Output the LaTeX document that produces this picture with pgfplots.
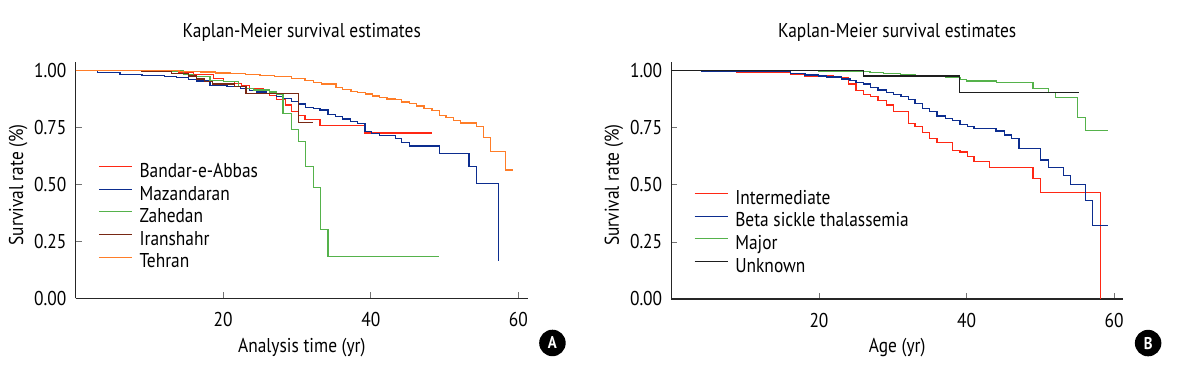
\documentclass[border=0pt]{standalone}
\usepackage{pgfplots}
\pgfplotsset{compat=1.18}
\usepackage{fontspec}
\setmainfont[FakeStretch=0.87]{PT Sans}
\definecolor{cRed}{RGB}{255,40,20}
\definecolor{cBlue}{RGB}{12,45,143}
\definecolor{cGreen}{RGB}{85,178,75}
\definecolor{cBrown}{RGB}{120,40,20}
\definecolor{cOrange}{RGB}{255,125,40}
\definecolor{cBlack}{RGB}{30,30,30}
\pgfplotsset{
  kmstyle/.style={
    scale only axis, anchor=south west, xmin=0, ymin=0,
    axis x line*=bottom, axis y line*=left,
    axis line style={line width=1.1bp, black!85, -},
    xtick={20,40,60}, ytick={0,0.25,0.5,0.75,1},
    /pgf/number format/assume math mode=true,
    yticklabel style={/pgf/number format/.cd, fixed, fixed zerofill, precision=2, /tikz/.cd, anchor=east, inner sep=0pt, xshift=-9bp},
    xticklabel style={anchor=north, inner sep=0pt, yshift=-14bp},
    major tick length=6bp, tick style={black!55, line width=0.8bp},
    clip=false, legend cell align=left,
    legend style={draw=none, fill=none, inner sep=0pt, row sep=0pt, column sep=6bp,
      nodes={inner sep=1bp, text height=15bp, text depth=5.6bp}},
    legend image code/.code={\draw[##1, line width=1.1bp] (0bp,6bp) -- (33bp,6bp);},
    every axis plot/.append style={const plot, line width=1.25bp},
    title style={anchor=base, at={(0.5,1)}, yshift=19bp},
    xlabel style={at={(axis description cs:0.5,-0.207)}, anchor=center},
    ylabel style={at={(axis description cs:-0.127,0.48)}, anchor=center},
  }
}
\begin{document}
\begin{tikzpicture}[font=\fontsize{20bp}{23bp}\selectfont]
\useasboundingbox (0,0) rectangle (1177bp,377bp);
\begin{axis}[kmstyle, at={(75.6bp,78.7bp)}, width=452.4bp, height=236.3bp,
  xmax=61.3, ymax=1.036,
  title={Kaplan-Meier survival estimates},
  xlabel={Analysis time (yr)}, ylabel={Survival rate (\%)},
  legend style={at={(axis description cs:0.05,0.58)}, anchor=north west}]
\addplot[cRed] coordinates {(0,1)(12,0.997)(14,0.99)(16,0.98)(18.7,0.963)(20,0.949)(21.5,0.942)(22.5,0.932)(23.6,0.92)(25.5,0.897)(26.3,0.890)(27.2,0.873)(28.4,0.848)(29.3,0.819)(30.2,0.801)(31.1,0.785)(33.1,0.757)(39.2,0.725)(48.3,0.725)};
\addlegendentry{Bandar-e-Abbas}
\addplot[cBlue] coordinates {(0,1)(3,0.99)(6,0.982)(9,0.976)(12,0.972)(13.7,0.968)(15.3,0.960)(16.4,0.953)(18.2,0.934)(20.5,0.930)(22.3,0.919)(23.6,0.912)(24.5,0.905)(25.9,0.897)(27.2,0.885)(28.1,0.877)(29.3,0.862)(30.2,0.852)(31.2,0.838)(32.2,0.832)(33.1,0.826)(34.2,0.807)(35.2,0.797)(36.2,0.786)(37.2,0.775)(38.2,0.767)(39.2,0.731)(40.1,0.723)(41.2,0.713)(43.3,0.699)(44.2,0.683)(45.2,0.668)(49.3,0.636)(53.3,0.577)(54.3,0.504)(57.3,0.164)};
\addlegendentry{Mazandaran}
\addplot[cGreen] coordinates {(0,1)(10,0.997)(14.6,0.981)(15.9,0.974)(18.2,0.956)(20.0,0.949)(22.1,0.930)(23.2,0.920)(24.1,0.913)(26.3,0.905)(27.2,0.895)(28.1,0.811)(29.3,0.741)(30.2,0.687)(31.2,0.577)(32.2,0.487)(33.2,0.303)(34.2,0.183)(49.3,0.183)};
\addlegendentry{Zahedan}
\addplot[cBrown] coordinates {(0,1)(9,0.995)(13,0.985)(15.3,0.975)(16.4,0.962)(17.5,0.950)(18.5,0.940)(21.5,0.930)(23.1,0.897)(30.2,0.770)(32.1,0.770)};
\addlegendentry{Iranshahr}
\addplot[cOrange] coordinates {(0,1)(10,0.998)(14,0.995)(17,0.992)(19,0.988)(21,0.985)(23,0.981)(25,0.978)(27,0.974)(27.7,0.972)(29.3,0.963)(31.1,0.954)(32.2,0.946)(33.3,0.940)(35.3,0.925)(36.2,0.914)(37.3,0.908)(38.2,0.902)(39.3,0.896)(40.2,0.887)(41.2,0.879)(42.2,0.874)(43.3,0.870)(44.2,0.861)(45.2,0.855)(46.2,0.843)(47.2,0.832)(48.3,0.823)(49.3,0.801)(50.2,0.792)(51.2,0.779)(52.2,0.769)(54.3,0.753)(55.3,0.706)(56.2,0.643)(58.3,0.563)(59.2,0.563)};
\addlegendentry{Tehran}
\node[circle, fill=black, text=white, inner sep=0pt, minimum size=26.5bp, font=\fontsize{17bp}{17bp}\selectfont\bfseries] at (rel axis cs:1.054,-0.189) {A};
\end{axis}
\begin{axis}[kmstyle, at={(671.4bp,78bp)}, width=451.6bp, height=237bp,
  xmax=61.2, ymax=1.038,
  title={Kaplan-Meier survival estimates},
  xlabel={Age (yr)}, ylabel={Survival rate (\%)},
  legend style={at={(axis description cs:0.05,0.468)}, anchor=north west}]
\addplot[cRed] coordinates {(0,1)(8.8,0.993)(16.1,0.985)(18.1,0.977)(21.9,0.969)(24.0,0.942)(25.0,0.913)(26.0,0.896)(27.0,0.886)(28.0,0.868)(29.1,0.850)(30.1,0.820)(32.1,0.770)(33.0,0.755)(34.0,0.730)(35.0,0.702)(36.0,0.686)(38.1,0.650)(39.1,0.644)(40.1,0.623)(41.0,0.602)(43.1,0.575)(49.0,0.528)(50.0,0.467)(58.1,0)};
\addlegendentry{Intermediate}
\addplot[cBlue] coordinates {(0,1)(4.1,0.996)(16.1,0.988)(18.1,0.981)(19.9,0.977)(21.0,0.972)(23.1,0.963)(24.2,0.956)(25.0,0.949)(26.0,0.942)(27.0,0.926)(28.0,0.915)(29.1,0.905)(30.1,0.896)(31.1,0.886)(32.1,0.874)(33.0,0.857)(34.0,0.835)(35.0,0.820)(36.0,0.801)(37.1,0.791)(38.1,0.781)(39.1,0.765)(40.1,0.755)(41.0,0.747)(44.0,0.736)(45.1,0.718)(46.1,0.704)(47.1,0.660)(50.0,0.609)(51.1,0.577)(53.1,0.540)(54.1,0.502)(56.1,0.431)(57.1,0.321)(59.1,0.321)};
\addlegendentry{Beta sickle thalassemia}
\addplot[cGreen] coordinates {(0,1)(19.9,0.997)(26.0,0.995)(26.9,0.992)(28.7,0.988)(31.0,0.983)(33.0,0.978)(35.0,0.974)(37.1,0.969)(39.1,0.962)(40.0,0.955)(44.1,0.948)(49.0,0.923)(51.1,0.904)(52.1,0.882)(55.0,0.794)(56.1,0.739)(59.1,0.739)};
\addlegendentry{Major}
\addplot[cBlack] coordinates {(0,1)(26.0,0.977)(39.0,0.905)(55.2,0.905)};
\addlegendentry{Unknown}
\node[circle, fill=black, text=white, inner sep=0pt, minimum size=26.5bp, font=\fontsize{17bp}{17bp}\selectfont\bfseries] at (rel axis cs:1.0556,-0.186) {B};
\end{axis}
\end{tikzpicture}
\end{document}
